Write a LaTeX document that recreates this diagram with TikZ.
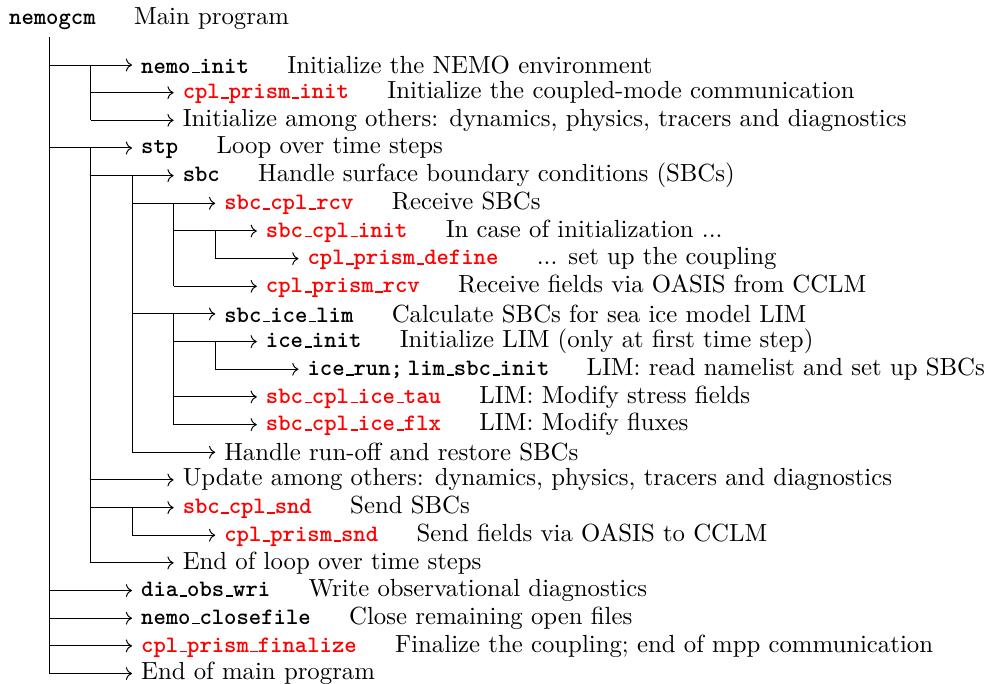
\documentclass[tikz,border=0pt]{standalone}
\usepackage{tikz}
\usetikzlibrary{arrows.meta}
\renewcommand{\_}{\leavevmode\kern0.6pt\vbox{\hrule height0.6pt width3pt}}
\newcommand{\fname}[1]{{\fontsize{9.5pt}{11pt}\selectfont\ttfamily\bfseries #1}}
\newcommand{\cname}[1]{\textcolor{red}{\fname{#1}}}

\begin{document}
\begin{tikzpicture}[
    x=0.4036pt, y=-0.4036pt,
    call/.style={anchor=west, inner xsep=3.5pt},
    arrow/.style={->},
    trunk/.style={draw}
]
\useasboundingbox (0,0) rectangle (987,683);

% columns of the call tree
\coordinate (c1) at (49,0);
\coordinate (c2) at (90.6,0);
\coordinate (c3) at (132.2,0);
\coordinate (c4) at (173.8,0);
\coordinate (c5) at (215.4,0);
\coordinate (roottop) at (49,37);

\node[call] (nemogcm) at (0,19) {\fname{nemogcm}\hspace{15.5pt}Main program};

\node[call] (nemoinit) at (132,65) {\fname{nemo\_init}\hspace{15.5pt}Initialize the NEMO environment};
\node[call] (prisminit) at (173.6,92.66) {\cname{cpl\_prism\_init}\hspace{15.5pt}Initialize the coupled-mode communication};
\node[call] (initall) at (173.6,120.32) {Initialize among others: dynamics, physics, tracers and diagnostics};
\node[call] (stp) at (132,147.98) {\fname{stp}\hspace{15.5pt}Loop over time steps};
\node[call] (sbc) at (173.6,175.64) {\fname{sbc}\hspace{15.5pt}Handle surface boundary conditions (SBCs)};
\node[call] (cplrcv) at (215.2,203.3) {\cname{sbc\_cpl\_rcv}\hspace{15.5pt}Receive SBCs};
\node[call] (cplinit) at (256.8,230.96) {\cname{sbc\_cpl\_init}\hspace{15.5pt}In case of initialization ...};
\node[call] (prismdef) at (298.4,258.62) {\cname{cpl\_prism\_define}\hspace{15.5pt}... set up the coupling};
\node[call] (prismrcv) at (256.8,286.28) {\cname{cpl\_prism\_rcv}\hspace{15.5pt}Receive fields via OASIS from CCLM};
\node[call] (icelim) at (215.2,313.94) {\fname{sbc\_ice\_lim}\hspace{15.5pt}Calculate SBCs for sea ice model LIM};
\node[call] (iceinit) at (256.8,341.6) {\fname{ice\_init}\hspace{15.5pt}Initialize LIM (only at first time step)};
\node[call] (icerun) at (298.4,369.26) {\fname{ice\_run;\hspace{2pt}lim\_sbc\_init}\hspace{15pt}LIM: read namelist and set up SBCs};
\node[call] (icetau) at (256.8,396.92) {\cname{sbc\_cpl\_ice\_tau}\hspace{15.5pt}LIM: Modify stress fields};
\node[call] (iceflx) at (256.8,424.58) {\cname{sbc\_cpl\_ice\_flx}\hspace{15.5pt}LIM: Modify fluxes};
\node[call] (runoff) at (215.2,452.24) {Handle run-off and restore SBCs};
\node[call] (update) at (173.6,479.9) {Update among others: dynamics, physics, tracers and diagnostics};
\node[call] (cplsnd) at (173.6,507.56) {\cname{sbc\_cpl\_snd}\hspace{15.5pt}Send SBCs};
\node[call] (prismsnd) at (215.2,535.22) {\cname{cpl\_prism\_snd}\hspace{15.5pt}Send fields via OASIS to CCLM};
\node[call] (loopend) at (173.6,562.88) {End of loop over time steps};
\node[call] (diaobs) at (132,590.54) {\fname{dia\_obs\_wri}\hspace{15.5pt}Write observational diagnostics};
\node[call] (closefile) at (132,618.2) {\fname{nemo\_closefile}\hspace{15.5pt}Close remaining open files};
\node[call] (finalize) at (132,645.86) {\cname{cpl\_prism\_finalize}\hspace{15.5pt}Finalize the coupling; end of mpp communication};
\node[call] (mainend) at (132,673.52) {End of main program};

% vertical lines
\draw[trunk] (roottop) -- (c1 |- mainend);
\draw[trunk] (c2 |- nemoinit) -- (c2 |- initall);
\draw[trunk] (c2 |- stp) -- (c2 |- loopend);
\draw[trunk] (c3 |- sbc) -- (c3 |- runoff);
\draw[trunk] (c4 |- cplrcv) -- (c4 |- prismrcv);
\draw[trunk] (c5 |- cplinit) -- (c5 |- prismdef);
\draw[trunk] (c4 |- icelim) -- (c4 |- iceflx);
\draw[trunk] (c5 |- iceinit) -- (c5 |- icerun);
\draw[trunk] (c3 |- cplsnd) -- (c3 |- prismsnd);

% calls
\draw[arrow] (c1 |- nemoinit) -- (nemoinit);
\draw[arrow] (c2 |- prisminit) -- (prisminit);
\draw[arrow] (c2 |- initall) -- (initall);
\draw[arrow] (c1 |- stp) -- (stp);
\draw[arrow] (c2 |- sbc) -- (sbc);
\draw[arrow] (c3 |- cplrcv) -- (cplrcv);
\draw[arrow] (c4 |- cplinit) -- (cplinit);
\draw[arrow] (c5 |- prismdef) -- (prismdef);
\draw[arrow] (c4 |- prismrcv) -- (prismrcv);
\draw[arrow] (c3 |- icelim) -- (icelim);
\draw[arrow] (c4 |- iceinit) -- (iceinit);
\draw[arrow] (c5 |- icerun) -- (icerun);
\draw[arrow] (c4 |- icetau) -- (icetau);
\draw[arrow] (c4 |- iceflx) -- (iceflx);
\draw[arrow] (c3 |- runoff) -- (runoff);
\draw[arrow] (c2 |- update) -- (update);
\draw[arrow] (c2 |- cplsnd) -- (cplsnd);
\draw[arrow] (c3 |- prismsnd) -- (prismsnd);
\draw[arrow] (c2 |- loopend) -- (loopend);
\draw[arrow] (c1 |- diaobs) -- (diaobs);
\draw[arrow] (c1 |- closefile) -- (closefile);
\draw[arrow] (c1 |- finalize) -- (finalize);
\draw[arrow] (c1 |- mainend) -- (mainend);
\end{tikzpicture}
\end{document}
